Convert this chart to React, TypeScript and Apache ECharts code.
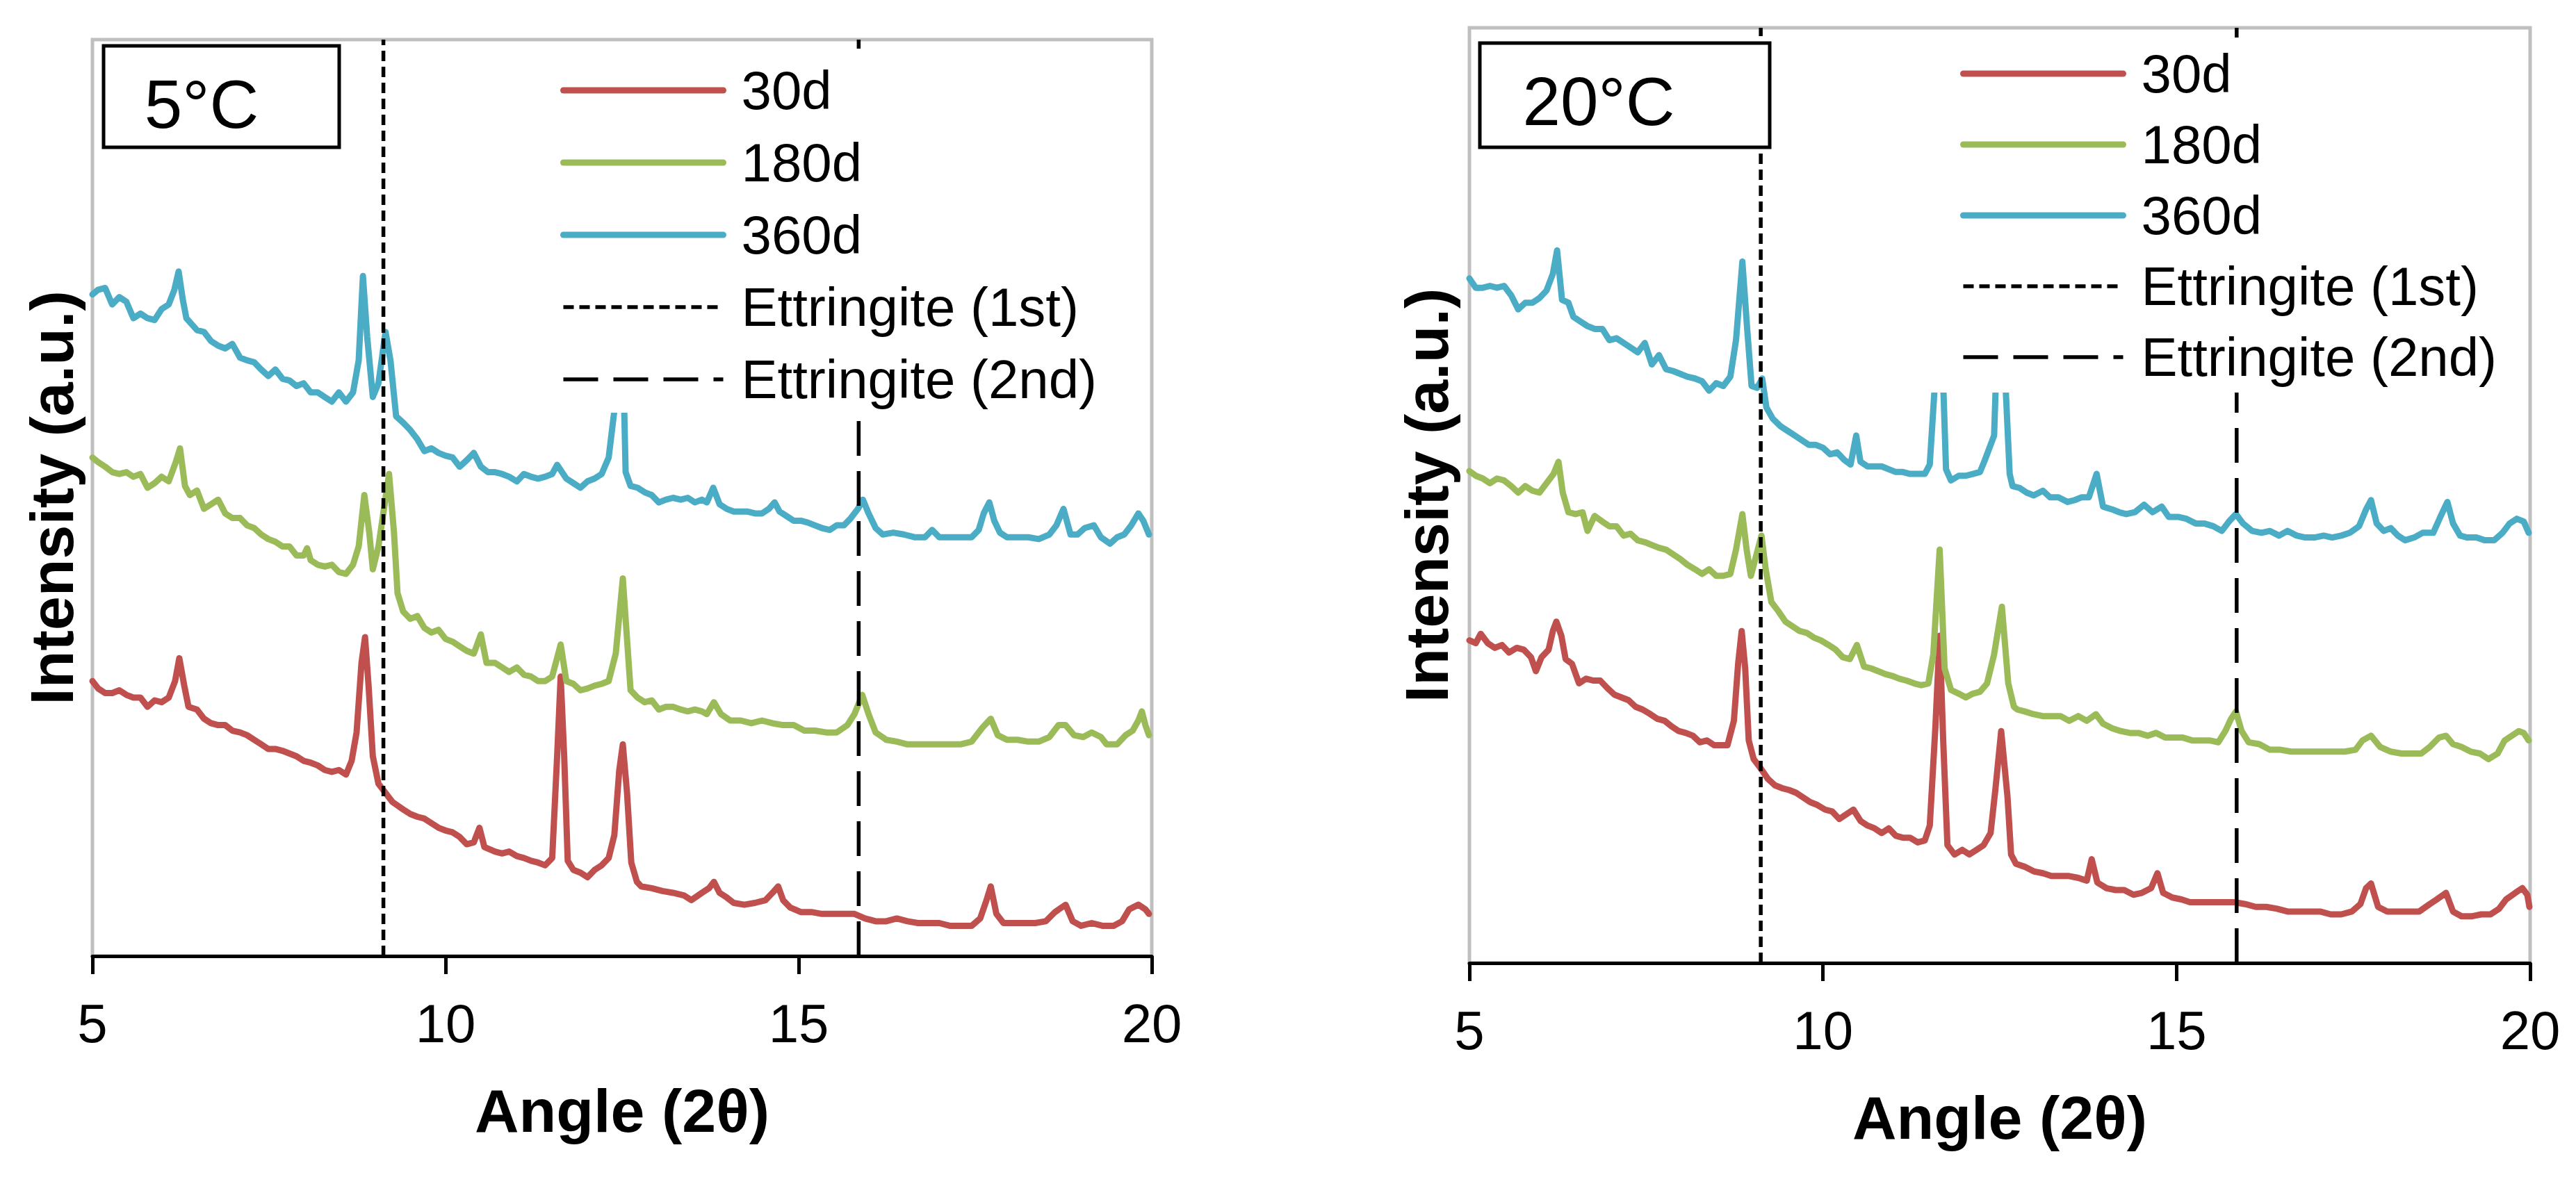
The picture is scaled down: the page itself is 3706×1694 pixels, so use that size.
import React, { useEffect, useRef } from "react";
import * as echarts from "echarts";

// ---------- DATA ----------
const angleTicks = [5, 10, 15, 20];
const ettringitePeaks = [9.12, 15.85]; // 1st and 2nd ettringite reflections (2θ)
const panelTitles = ["5°C", "20°C"];
const ageNames = ["30d", "180d", "360d"];
const lineNames = ["Ettringite (1st)", "Ettringite (2nd)"];

// 5 °C panel: [angle 2θ, intensity (a.u., offset stacked)]
const c5_30d = [[5.00,30.0],[5.08,29.2],[5.18,28.7],[5.28,28.7],[5.38,29.0],[5.48,28.5],[5.58,28.2],[5.68,28.2],[5.78,27.2],[5.88,27.9],[5.98,27.7],[6.08,28.2],[6.17,30.0],[6.23,32.5],[6.30,29.5],[6.36,27.2],[6.48,26.9],[6.58,25.9],[6.68,25.4],[6.78,25.2],[6.88,25.2],[6.98,24.6],[7.09,24.4],[7.19,24.1],[7.29,23.6],[7.39,23.1],[7.49,22.6],[7.59,22.6],[7.69,22.4],[7.79,22.1],[7.89,21.8],[7.99,21.3],[8.09,21.1],[8.19,20.8],[8.29,20.3],[8.39,20.1],[8.49,20.3],[8.59,19.8],[8.67,21.3],[8.74,24.4],[8.81,32.0],[8.86,34.8],[8.91,29.5],[8.97,21.8],[9.05,18.8],[9.15,17.8],[9.25,16.8],[9.40,16.0],[9.50,15.5],[9.60,15.2],[9.70,15.0],[9.80,14.5],[9.90,14.0],[10.00,13.7],[10.10,13.5],[10.20,13.0],[10.30,12.2],[10.40,12.4],[10.48,14.0],[10.55,11.9],[10.70,11.4],[10.80,11.2],[10.90,11.4],[11.01,10.9],[11.11,10.7],[11.21,10.4],[11.31,10.2],[11.41,9.9],[11.51,10.7],[11.58,21.8],[11.63,30.5],[11.68,21.8],[11.73,10.4],[11.81,9.4],[11.91,9.1],[12.01,8.6],[12.11,9.4],[12.21,9.9],[12.31,10.7],[12.39,13.2],[12.46,20.3],[12.51,23.1],[12.57,17.8],[12.63,10.2],[12.71,8.1],[12.77,7.6],[12.92,7.4],[13.07,7.1],[13.22,6.9],[13.38,6.6],[13.48,6.1],[13.63,6.9],[13.73,7.4],[13.80,8.1],[13.88,6.9],[13.98,6.4],[14.08,5.8],[14.23,5.6],[14.38,5.8],[14.53,6.1],[14.63,6.9],[14.71,7.6],[14.78,6.1],[14.88,5.3],[15.03,4.8],[15.18,4.8],[15.33,4.6],[15.49,4.6],[15.64,4.6],[15.79,4.6],[15.94,4.1],[16.09,3.8],[16.24,3.8],[16.39,4.1],[16.54,3.8],[16.69,3.6],[16.84,3.6],[16.99,3.6],[17.14,3.3],[17.29,3.3],[17.45,3.3],[17.57,4.1],[17.66,6.1],[17.72,7.6],[17.80,4.6],[17.90,3.6],[18.05,3.6],[18.20,3.6],[18.35,3.6],[18.50,3.8],[18.63,4.8],[18.78,5.6],[18.88,3.8],[19.00,3.3],[19.15,3.6],[19.30,3.3],[19.46,3.3],[19.58,3.8],[19.68,5.1],[19.81,5.6],[19.91,5.1],[19.96,4.6]];

const c5_180d = [[5.00,54.4],[5.08,53.9],[5.18,53.4],[5.28,52.8],[5.38,52.6],[5.48,52.8],[5.58,52.3],[5.68,52.6],[5.78,51.1],[5.88,51.6],[5.98,52.3],[6.08,51.8],[6.18,53.9],[6.24,55.4],[6.31,51.3],[6.38,50.3],[6.48,50.8],[6.58,48.8],[6.68,49.3],[6.78,49.8],[6.88,48.3],[6.98,47.8],[7.09,47.8],[7.19,47.0],[7.29,46.7],[7.39,46.0],[7.49,45.5],[7.59,45.2],[7.69,44.7],[7.79,44.7],[7.89,43.7],[7.99,43.7],[8.04,44.5],[8.09,43.2],[8.19,42.7],[8.29,42.5],[8.39,42.7],[8.49,41.9],[8.59,41.7],[8.69,42.7],[8.77,44.7],[8.85,50.3],[8.92,46.2],[8.97,42.2],[9.05,44.7],[9.20,52.6],[9.27,46.2],[9.32,39.6],[9.40,37.6],[9.50,36.8],[9.60,37.1],[9.70,35.8],[9.80,35.3],[9.90,35.6],[10.00,34.6],[10.10,34.3],[10.20,33.8],[10.30,33.3],[10.40,33.0],[10.50,35.1],[10.58,32.0],[10.70,32.0],[10.80,31.5],[10.90,31.0],[11.01,31.5],[11.11,30.7],[11.21,30.5],[11.31,30.0],[11.41,30.0],[11.51,30.5],[11.63,34.0],[11.71,30.0],[11.81,29.7],[11.91,29.0],[12.01,29.2],[12.11,29.5],[12.21,29.7],[12.31,30.0],[12.41,33.0],[12.51,41.2],[12.62,29.0],[12.72,28.2],[12.82,27.7],[12.92,27.9],[13.02,26.9],[13.12,27.2],[13.22,27.2],[13.33,26.9],[13.43,26.7],[13.53,26.9],[13.63,26.7],[13.70,26.4],[13.80,27.7],[13.90,26.4],[14.03,25.7],[14.18,25.7],[14.33,25.4],[14.48,25.7],[14.63,25.4],[14.78,25.2],[14.93,25.2],[15.08,24.6],[15.23,24.6],[15.39,24.4],[15.54,24.4],[15.69,25.2],[15.79,26.4],[15.90,28.5],[15.99,26.4],[16.09,24.4],[16.24,23.6],[16.39,23.4],[16.54,23.1],[16.69,23.1],[16.84,23.1],[16.99,23.1],[17.14,23.1],[17.29,23.1],[17.45,23.4],[17.60,24.9],[17.72,25.9],[17.82,24.1],[17.95,23.6],[18.10,23.6],[18.25,23.4],[18.40,23.4],[18.55,23.9],[18.68,25.2],[18.78,25.2],[18.90,24.1],[19.03,23.9],[19.15,24.4],[19.28,23.9],[19.36,23.1],[19.51,23.1],[19.63,24.1],[19.73,24.6],[19.81,25.7],[19.86,26.7],[19.91,25.2],[19.96,24.1]];

const c5_360d = [[5.00,72.2],[5.08,72.7],[5.18,72.9],[5.28,71.1],[5.38,71.9],[5.48,71.4],[5.58,69.6],[5.68,70.1],[5.78,69.6],[5.88,69.4],[5.98,70.6],[6.08,71.1],[6.16,72.7],[6.22,74.7],[6.28,71.6],[6.33,69.6],[6.48,68.3],[6.58,68.1],[6.68,67.1],[6.78,66.6],[6.88,66.3],[6.98,66.8],[7.09,65.3],[7.19,65.0],[7.29,64.8],[7.39,64.0],[7.49,63.3],[7.59,64.0],[7.69,63.0],[7.79,62.8],[7.89,62.2],[7.99,62.5],[8.09,61.5],[8.19,61.5],[8.29,61.0],[8.39,60.5],[8.49,61.5],[8.59,60.5],[8.69,61.5],[8.77,65.0],[8.83,74.2],[8.89,67.6],[8.97,61.0],[9.05,62.5],[9.15,68.1],[9.22,65.0],[9.30,58.9],[9.40,58.2],[9.50,57.4],[9.60,56.4],[9.70,55.1],[9.80,55.4],[9.90,54.9],[10.00,54.6],[10.10,54.4],[10.20,53.4],[10.30,54.1],[10.40,54.9],[10.50,53.4],[10.60,52.8],[10.70,52.8],[10.80,52.6],[10.90,52.3],[11.01,51.8],[11.11,52.6],[11.21,52.3],[11.31,52.1],[11.41,52.3],[11.51,52.6],[11.58,53.6],[11.71,52.1],[11.81,51.6],[11.91,51.1],[12.01,51.8],[12.11,52.1],[12.21,52.6],[12.31,54.4],[12.39,59.5],[12.47,80.0],[12.55,52.8],[12.62,51.3],[12.72,51.1],[12.82,50.6],[12.92,50.3],[13.02,49.5],[13.12,49.8],[13.22,50.0],[13.33,49.8],[13.43,50.0],[13.53,49.5],[13.63,49.8],[13.70,49.5],[13.79,51.1],[13.88,49.3],[13.98,48.8],[14.08,48.5],[14.18,48.5],[14.28,48.5],[14.38,48.3],[14.48,48.3],[14.58,48.8],[14.66,49.5],[14.73,48.5],[14.83,48.0],[14.93,47.5],[15.03,47.5],[15.13,47.3],[15.23,47.0],[15.33,46.7],[15.44,46.5],[15.54,47.0],[15.64,47.0],[15.74,47.8],[15.84,48.8],[15.91,49.8],[15.99,48.3],[16.09,46.7],[16.19,46.0],[16.34,46.2],[16.49,46.0],[16.64,45.7],[16.79,45.7],[16.89,46.5],[16.99,45.7],[17.14,45.7],[17.29,45.7],[17.45,45.7],[17.55,46.5],[17.62,48.3],[17.70,49.5],[17.77,47.5],[17.85,46.2],[17.95,45.7],[18.10,45.7],[18.25,45.7],[18.40,45.5],[18.55,46.0],[18.65,47.0],[18.75,48.8],[18.85,46.0],[18.95,46.0],[19.05,46.7],[19.18,47.0],[19.28,45.7],[19.41,45.0],[19.51,45.7],[19.61,46.0],[19.71,47.0],[19.81,48.3],[19.88,47.5],[19.96,46.0]];

// 20 °C panel
const c20_30d = [[5.00,34.5],[5.09,34.2],[5.16,35.2],[5.26,34.2],[5.36,33.7],[5.46,34.0],[5.56,33.2],[5.67,33.7],[5.77,33.5],[5.87,32.7],[5.94,31.2],[6.02,32.7],[6.12,33.5],[6.18,35.5],[6.23,36.5],[6.30,35.0],[6.36,32.5],[6.45,32.0],[6.55,29.9],[6.65,30.4],[6.75,30.2],[6.85,30.2],[6.95,29.4],[7.05,28.7],[7.15,28.4],[7.25,28.1],[7.35,27.4],[7.45,27.1],[7.56,26.6],[7.66,26.1],[7.76,25.9],[7.86,25.3],[7.96,24.8],[8.06,24.6],[8.16,24.3],[8.26,23.6],[8.36,23.8],[8.46,23.3],[8.56,23.3],[8.65,23.3],[8.74,25.9],[8.80,32.0],[8.85,35.5],[8.90,31.5],[8.95,23.8],[9.02,21.8],[9.12,20.8],[9.22,19.7],[9.32,19.0],[9.42,18.7],[9.52,18.5],[9.62,18.2],[9.72,17.7],[9.82,17.2],[9.92,16.9],[10.03,16.4],[10.13,16.2],[10.23,15.4],[10.33,15.9],[10.43,16.4],[10.53,15.2],[10.63,14.7],[10.73,14.4],[10.83,13.9],[10.93,14.4],[11.03,13.6],[11.13,13.4],[11.23,13.4],[11.34,12.9],[11.44,13.1],[11.51,14.7],[11.59,25.3],[11.65,35.0],[11.70,23.8],[11.76,12.6],[11.86,11.6],[11.97,12.1],[12.07,11.6],[12.17,12.1],[12.27,12.6],[12.37,13.9],[12.44,18.7],[12.52,24.8],[12.61,17.7],[12.66,11.6],[12.73,10.6],[12.85,10.3],[12.98,9.8],[13.11,9.6],[13.23,9.3],[13.36,9.3],[13.48,9.3],[13.61,9.1],[13.73,8.8],[13.80,11.1],[13.88,8.6],[14.01,8.0],[14.14,7.8],[14.26,7.8],[14.39,7.3],[14.51,7.5],[14.64,8.0],[14.73,9.6],[14.81,7.5],[14.94,7.0],[15.07,6.8],[15.19,6.5],[15.32,6.5],[15.44,6.5],[15.57,6.5],[15.69,6.5],[15.82,6.5],[15.97,6.3],[16.12,6.0],[16.27,6.0],[16.42,5.8],[16.57,5.5],[16.72,5.5],[16.87,5.5],[17.03,5.5],[17.18,5.2],[17.33,5.2],[17.48,5.5],[17.60,6.3],[17.68,8.0],[17.75,8.5],[17.85,6.0],[17.98,5.5],[18.13,5.5],[18.28,5.5],[18.43,5.5],[18.58,6.3],[18.68,6.8],[18.81,7.5],[18.91,5.5],[19.03,5.0],[19.18,5.0],[19.31,5.2],[19.44,5.2],[19.56,5.8],[19.66,6.8],[19.79,7.5],[19.89,8.0],[19.96,7.3],[19.99,6.0]];

const c20_180d = [[5.00,52.6],[5.09,52.1],[5.19,51.8],[5.29,51.3],[5.39,51.8],[5.49,51.6],[5.59,51.0],[5.69,50.3],[5.79,51.0],[5.89,50.5],[5.99,50.3],[6.09,51.3],[6.19,52.3],[6.26,53.6],[6.32,50.3],[6.40,48.2],[6.50,48.0],[6.60,48.2],[6.67,46.2],[6.77,47.8],[6.88,47.2],[6.98,46.7],[7.08,46.7],[7.18,45.7],[7.28,45.9],[7.38,45.2],[7.48,45.0],[7.58,44.7],[7.68,44.4],[7.78,44.2],[7.88,43.7],[7.98,43.2],[8.08,42.6],[8.19,42.1],[8.29,41.6],[8.39,42.1],[8.49,41.4],[8.59,41.4],[8.69,41.6],[8.77,44.2],[8.86,48.0],[8.92,44.2],[8.98,41.4],[9.06,43.7],[9.13,45.7],[9.19,42.1],[9.27,38.6],[9.37,37.6],[9.47,36.5],[9.57,36.0],[9.67,35.5],[9.77,35.3],[9.87,34.8],[9.97,34.5],[10.08,34.0],[10.18,33.5],[10.28,32.7],[10.38,32.5],[10.48,34.0],[10.58,31.7],[10.68,31.5],[10.78,31.2],[10.88,30.9],[10.98,30.7],[11.08,30.4],[11.18,30.2],[11.29,29.9],[11.39,29.7],[11.49,29.9],[11.56,33.0],[11.65,44.2],[11.72,31.5],[11.81,29.2],[11.92,28.8],[12.02,28.4],[12.12,28.8],[12.22,29.0],[12.32,29.9],[12.42,33.0],[12.53,38.1],[12.62,29.9],[12.70,27.4],[12.75,27.1],[12.85,26.9],[12.98,26.6],[13.11,26.4],[13.23,26.4],[13.36,26.4],[13.48,25.9],[13.61,26.4],[13.73,25.9],[13.86,26.6],[13.96,25.6],[14.09,25.1],[14.21,24.8],[14.34,24.6],[14.46,24.6],[14.59,24.3],[14.71,24.6],[14.84,24.1],[14.96,24.1],[15.09,24.1],[15.22,23.8],[15.34,23.8],[15.47,23.8],[15.59,23.6],[15.69,24.8],[15.77,26.1],[15.84,26.9],[15.92,24.8],[16.02,23.6],[16.17,23.4],[16.32,22.8],[16.47,22.8],[16.62,22.6],[16.77,22.6],[16.92,22.6],[17.08,22.6],[17.23,22.6],[17.38,22.6],[17.53,22.8],[17.63,23.8],[17.75,24.3],[17.88,23.1],[18.03,22.6],[18.18,22.4],[18.33,22.4],[18.46,22.4],[18.58,23.1],[18.71,24.1],[18.81,24.3],[18.91,23.4],[19.03,23.1],[19.16,22.6],[19.29,22.4],[19.41,21.8],[19.54,22.4],[19.64,23.8],[19.74,24.3],[19.84,24.8],[19.91,24.6],[19.98,23.8]];

const c20_360d = [[5.00,73.2],[5.09,72.2],[5.19,72.2],[5.29,72.4],[5.39,72.2],[5.49,72.4],[5.59,71.4],[5.69,69.9],[5.79,70.6],[5.89,70.6],[5.99,71.1],[6.09,71.9],[6.18,73.7],[6.24,76.2],[6.31,70.9],[6.40,70.6],[6.47,69.1],[6.57,68.6],[6.67,68.1],[6.77,67.8],[6.88,67.8],[6.98,66.6],[7.08,66.8],[7.18,66.3],[7.28,65.8],[7.38,65.3],[7.48,66.3],[7.58,64.0],[7.68,65.0],[7.78,63.5],[7.88,63.3],[7.98,63.0],[8.08,62.7],[8.19,62.5],[8.29,62.2],[8.39,61.2],[8.49,62.0],[8.59,61.7],[8.69,62.7],[8.77,66.6],[8.86,75.0],[8.93,67.6],[8.99,61.7],[9.07,61.5],[9.14,62.5],[9.20,59.4],[9.29,58.2],[9.40,57.4],[9.50,56.9],[9.60,56.4],[9.70,55.9],[9.80,55.4],[9.90,55.4],[10.00,55.1],[10.10,54.4],[10.20,54.6],[10.30,53.8],[10.39,53.3],[10.47,56.4],[10.53,53.6],[10.63,53.1],[10.73,53.1],[10.83,53.1],[10.93,52.8],[11.03,52.5],[11.13,52.5],[11.23,52.3],[11.34,52.3],[11.44,52.3],[11.51,53.3],[11.60,64.0],[11.65,80.0],[11.70,62.0],[11.74,52.8],[11.81,51.6],[11.92,52.1],[12.02,52.1],[12.12,52.3],[12.22,52.5],[12.28,53.6],[12.42,56.4],[12.47,68.0],[12.52,80.0],[12.58,62.0],[12.64,52.3],[12.68,51.0],[12.78,50.8],[12.88,50.3],[12.98,50.0],[13.11,50.5],[13.21,49.8],[13.33,49.8],[13.46,49.3],[13.56,49.5],[13.66,49.8],[13.76,49.8],[13.87,52.3],[13.96,48.8],[14.09,48.5],[14.19,48.2],[14.29,48.0],[14.41,48.2],[14.54,49.0],[14.66,48.2],[14.79,48.8],[14.89,47.7],[15.02,47.7],[15.14,47.5],[15.27,47.0],[15.39,47.0],[15.52,46.7],[15.64,46.2],[15.74,47.2],[15.84,48.0],[15.94,47.0],[16.07,46.2],[16.20,46.0],[16.32,46.2],[16.45,45.7],[16.57,46.2],[16.70,45.7],[16.82,45.5],[16.95,45.5],[17.08,45.7],[17.20,45.5],[17.33,45.7],[17.45,46.0],[17.58,46.7],[17.68,48.5],[17.75,49.5],[17.83,47.0],[17.93,46.2],[18.03,46.5],[18.13,45.7],[18.23,45.2],[18.36,45.5],[18.48,46.0],[18.63,46.0],[18.73,47.7],[18.83,49.3],[18.91,47.0],[19.01,45.7],[19.11,45.5],[19.24,45.5],[19.36,45.2],[19.49,45.2],[19.61,46.0],[19.71,47.0],[19.81,47.5],[19.91,47.2],[19.98,46.0]];

const panelData = [
  [c5_30d, c5_180d, c5_360d],
  [c20_30d, c20_180d, c20_360d],
];

// ---------- STYLE / LAYOUT ----------
const FONT = "'Liberation Sans', Arial, Helvetica, sans-serif";
const AGE_COLORS = ["#C0504D", "#9BBB59", "#4BACC6"];
const LINE_DASH = [
  [15, 8],
  [50, 22],
];
const GRIDS = [
  { left: 133, top: 57, width: 1524, height: 1319 },
  { left: 2114, top: 40, width: 1526, height: 1346 },
];
const LEGENDS = [
  { left: 746, top: 70, itemGap: 24, padding: [20, 30, 8, 60] },
  { left: 2760, top: 54, itemGap: 22, padding: [12, 30, 11, 60] },
];
const TITLE_BOXES = [
  { x: 149, y: 66, w: 339, h: 146, tx: 290, ty: 150 },
  { x: 2129, y: 62, w: 417, h: 150, tx: 2300, ty: 146 },
];
const Y_MIN = 0;
const Y_MAX = 100;

function buildOption() {
  const grid: any[] = [];
  const xAxis: any[] = [];
  const yAxis: any[] = [];
  const series: any[] = [];
  const legend: any[] = [];
  const graphic: any[] = [];

  GRIDS.forEach((g, i) => {
    grid.push({
      ...g,
      show: true,
      borderColor: "#BFBFBF",
      borderWidth: 5,
      backgroundColor: "transparent",
      containLabel: false,
    });
    xAxis.push({
      type: "value",
      gridIndex: i,
      min: angleTicks[0],
      max: angleTicks[angleTicks.length - 1],
      interval: angleTicks[1] - angleTicks[0],
      z: 5,
      axisLine: { show: true, onZero: false, lineStyle: { color: "#000", width: 5 } },
      axisTick: { show: true, inside: false, length: 26, lineStyle: { color: "#000", width: 5 } },
      axisLabel: {
        show: true,
        margin: 58,
        fontSize: 78,
        lineHeight: 78,
        color: "#000",
        fontFamily: FONT,
        showMinLabel: true,
        showMaxLabel: true,
      },
      splitLine: { show: false },
      name: "Angle (2θ)",
      nameLocation: "middle",
      nameGap: 178,
      nameTextStyle: { fontSize: 88, lineHeight: 88, fontWeight: "bold", color: "#000", fontFamily: FONT },
    });
    yAxis.push({
      type: "value",
      gridIndex: i,
      min: Y_MIN,
      max: Y_MAX,
      axisLine: { show: false },
      axisTick: { show: false },
      axisLabel: { show: false },
      splitLine: { show: false },
      name: "Intensity (a.u.)",
      nameLocation: "middle",
      nameGap: i === 0 ? 15 : 18,
      nameTextStyle: { fontSize: 88, lineHeight: 88, fontWeight: "bold", color: "#000", fontFamily: FONT },
    });

    panelData[i].forEach((d, k) => {
      series.push({
        type: "line",
        name: ageNames[k],
        xAxisIndex: i,
        yAxisIndex: i,
        data: d,
        symbol: "none",
        showSymbol: false,
        color: AGE_COLORS[k],
        lineStyle: { color: AGE_COLORS[k], width: 9, join: "round", cap: "round" },
        z: 2,
      });
    });

    ettringitePeaks.forEach((p, k) => {
      series.push({
        type: "line",
        name: lineNames[k],
        xAxisIndex: i,
        yAxisIndex: i,
        data: [
          [p, Y_MIN],
          [p, Y_MAX],
        ],
        symbol: "none",
        showSymbol: false,
        color: "#000",
        lineStyle: { color: "#000", width: 5.5, type: LINE_DASH[k] },
        z: 3,
      });
    });

    const L = LEGENDS[i];
    legend.push({
      orient: "vertical",
      left: L.left,
      top: L.top,
      padding: L.padding,
      itemGap: L.itemGap,
      itemWidth: 230,
      itemHeight: 2,
      backgroundColor: "#fff",
      selectedMode: false,
      data: [...ageNames, ...lineNames],
      lineStyle: { width: "inherit" },
      itemStyle: { opacity: 0 },
      textStyle: {
        fontSize: 78,
        lineHeight: 80,
        color: "#000",
        fontFamily: FONT,
        padding: [0, 0, 0, 21],
      },
      z: 10,
    });

    const b = TITLE_BOXES[i];
    graphic.push({
      type: "rect",
      z: 20,
      shape: { x: b.x, y: b.y, width: b.w, height: b.h },
      style: { fill: "#fff", stroke: "#000", lineWidth: 5 },
    });
    graphic.push({
      type: "text",
      z: 21,
      x: b.tx,
      y: b.ty,
      style: {
        text: panelTitles[i],
        fontSize: 98,
        fontFamily: FONT,
        fill: "#000",
        align: "center",
        verticalAlign: "middle",
      },
    });
  });

  return {
    animation: false,
    backgroundColor: "#fff",
    grid,
    xAxis,
    yAxis,
    legend,
    series,
    graphic,
  };
}

export default function App() {
  const ref = useRef<HTMLDivElement>(null);
  useEffect(() => {
    if (!ref.current) return;
    const chart = echarts.init(ref.current, undefined, { renderer: "svg" });
    chart.setOption(buildOption());
    return () => chart.dispose();
  }, []);
  return (
    <div
      ref={ref}
      style={{ position: "absolute", left: 0, top: 0, width: 3706, height: 1694, background: "#fff" }}
    />
  );
}
